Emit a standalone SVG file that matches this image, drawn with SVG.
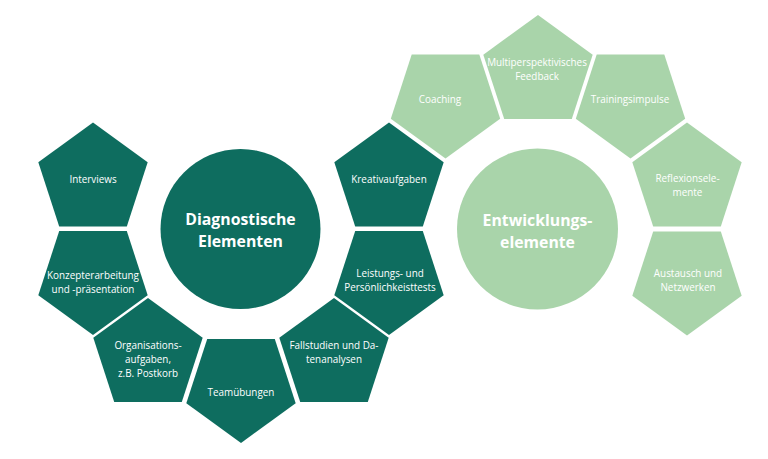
<svg xmlns="http://www.w3.org/2000/svg" xmlns:xlink="http://www.w3.org/1999/xlink" width="768" height="459" viewBox="0 0 768 459">
<style>
.dk{fill:#0e6d5f}
.lt{fill:#a9d4aa}
text{font-family:"Open Sans","Liberation Sans",sans-serif;fill:#ffffff;text-anchor:middle}
.s{font-size:9.9px}
.t{font-size:15.8px;font-weight:bold}
</style>
<defs>
<polygon id="up" points="0,-57.5 54.69,-17.77 33.8,46.52 -33.8,46.52 -54.69,-17.77"/>
<polygon id="dn" points="0,57.5 -54.69,17.77 -33.8,-46.52 33.8,-46.52 54.69,17.77"/>
</defs>
<rect width="768" height="459" fill="#ffffff"/>
<g id="connectors"></g>
<g id="diagnostische-elementen">
<circle class="dk" cx="240.5" cy="229" r="80"/>
<text class="t" x="240.5" y="224.5">Diagnostische</text>
<text class="t" x="240.5" y="246.5">Elementen</text>
</g>
<g id="interviews"><use href="#up" class="dk" x="93" y="180"/><text class="s" x="93" y="182.5">Interviews</text></g>
<g id="konzepterarbeitung"><use href="#dn" class="dk" x="93" y="277.5"/><text class="s" x="93" y="278.5">Konzepterarbeitung</text><text class="s" x="93" y="292.5">und -präsentation</text></g>
<g id="organisationsaufgaben"><use href="#up" class="dk" x="148" y="355.5"/><text class="s" x="148" y="348.5">Organisations-</text><text class="s" x="148" y="362.5">aufgaben,</text><text class="s" x="148" y="376.5">z.B. Postkorb</text></g>
<g id="teamuebungen"><use href="#dn" class="dk" x="241" y="385.5"/><text class="s" x="241" y="395.5">Teamübungen</text></g>
<g id="fallstudien"><use href="#up" class="dk" x="334" y="355.5"/><text class="s" x="334" y="348.5">Fallstudien und Da-</text><text class="s" x="334" y="362.5">tenanalysen</text></g>
<g id="leistungstests"><use href="#dn" class="dk" x="389" y="277.5"/><text class="s" x="390" y="276.5">Leistungs- und</text><text class="s" x="390" y="291">Persönlichkeisttests</text></g>
<g id="kreativaufgaben"><use href="#up" class="dk" x="389" y="180"/><text class="s" x="389" y="182.5">Kreativaufgaben</text></g>
<g id="entwicklungselemente">
<circle class="lt" cx="537.5" cy="229" r="80.5"/>
<text class="t" x="537.5" y="225.5">Entwicklungs-</text>
<text class="t" x="537.5" y="247.5">elemente</text>
</g>
<g id="coaching"><use href="#dn" class="lt" x="445.5" y="101"/><text class="s" x="440" y="102.5">Coaching</text></g>
<g id="feedback"><use href="#up" class="lt" x="538" y="72.5"/><text class="s" x="537" y="65.5">Multiperspektivisches</text><text class="s" x="537" y="79.5">Feedback</text></g>
<g id="trainingsimpulse"><use href="#dn" class="lt" x="630.5" y="101"/><text class="s" x="630" y="102.5">Trainingsimpulse</text></g>
<g id="reflexionselemente"><use href="#up" class="lt" x="687" y="180"/><text class="s" x="687.5" y="181.5">Reflexionsele-</text><text class="s" x="687.5" y="195.5">mente</text></g>
<g id="austausch"><use href="#dn" class="lt" x="687" y="278"/><text class="s" x="688" y="276.5">Austausch und</text><text class="s" x="688" y="290.5">Netzwerken</text></g>
</svg>
